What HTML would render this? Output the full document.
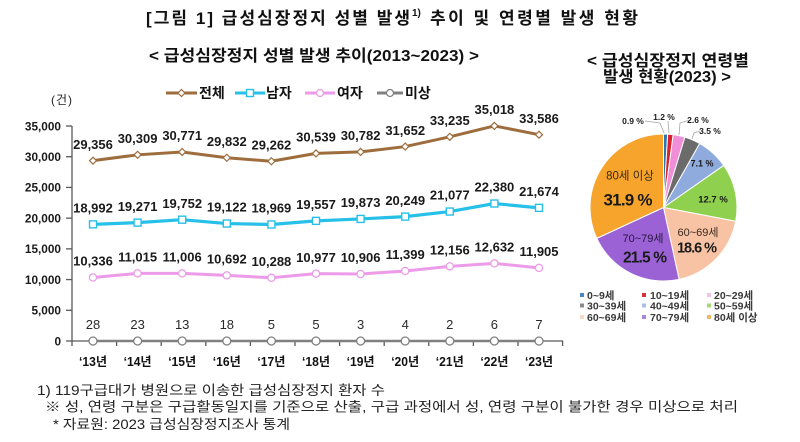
<!DOCTYPE html>
<html>
<head>
<meta charset="utf-8">
<style>
  html,body{margin:0;padding:0;background:#fff;}
  svg{display:block;}
  .kr{font-family:"Liberation Sans","Noto Sans CJK KR",sans-serif;}
  .num{font-family:"Liberation Sans","Noto Sans CJK KR",sans-serif;font-weight:bold;fill:#1a1a1a;}
</style>
</head>
<body>
<svg width="800" height="442" viewBox="0 0 800 442" xmlns="http://www.w3.org/2000/svg">
  <rect width="800" height="442" fill="#fff"/>

  <!-- Title -->
  <text class="kr" x="146" y="24" font-size="17" font-weight="bold" fill="#111" textLength="264">[그림 1] 급성심장정지 성별 발생</text>
  <text class="kr" x="412" y="16" font-size="10" font-weight="bold" fill="#111">1)</text>
  <text class="kr" x="430" y="24" font-size="17" font-weight="bold" fill="#111" textLength="208">추이 및 연령별 발생 현황</text>

  <!-- Subtitles -->
  <text class="kr" x="149" y="61" font-size="16" font-weight="bold" fill="#111" textLength="330" lengthAdjust="spacingAndGlyphs">&lt; 급성심장정지 성별 발생 추이(2013~2023) &gt;</text>
  <text class="kr" x="587" y="66" font-size="16" font-weight="bold" fill="#111" textLength="162" lengthAdjust="spacingAndGlyphs">&lt; 급성심장정지  연령별</text>
  <text class="kr" x="603" y="82" font-size="16" font-weight="bold" fill="#111" textLength="128" lengthAdjust="spacingAndGlyphs">발생 현황(2023) &gt;</text>

  <!-- Unit -->
  <text class="kr" x="51" y="104" font-size="12" fill="#222" textLength="21">(건)</text>

  <!-- Legend -->
  <g>
    <line x1="166" y1="93" x2="197" y2="93" stroke="#9e6d3d" stroke-width="3"/>
    <path d="M181.5 89.5 L185 93 L181.5 96.5 L178 93 Z" fill="#fff" stroke="#9e6d3d" stroke-width="1.2"/>
    <text class="kr" x="199" y="98" font-size="14" font-weight="bold" fill="#111">전체</text>

    <line x1="235" y1="93" x2="265" y2="93" stroke="#27c0e8" stroke-width="3"/>
    <rect x="246.5" y="89.5" width="7" height="7" fill="#fff" stroke="#27c0e8" stroke-width="1.4"/>
    <text class="kr" x="266" y="98" font-size="14" font-weight="bold" fill="#111">남자</text>

    <line x1="305" y1="93" x2="335" y2="93" stroke="#ec9be8" stroke-width="3"/>
    <circle cx="320" cy="93" r="3.5" fill="#fff" stroke="#ec9be8" stroke-width="1.3"/>
    <text class="kr" x="337" y="98" font-size="14" font-weight="bold" fill="#111">여자</text>

    <line x1="377" y1="93" x2="403" y2="93" stroke="#808080" stroke-width="3"/>
    <circle cx="390" cy="93" r="3.5" fill="#fff" stroke="#808080" stroke-width="1.3"/>
    <text class="kr" x="405" y="98" font-size="14" font-weight="bold" fill="#111">미상</text>
  </g>

  <!-- Y axis -->
  <g stroke="#595959" stroke-width="1.3">
    <line x1="72" y1="126" x2="72" y2="341"/>
    <line x1="66" y1="126" x2="72" y2="126"/>
    <line x1="66" y1="156.71" x2="72" y2="156.71"/>
    <line x1="66" y1="187.43" x2="72" y2="187.43"/>
    <line x1="66" y1="218.14" x2="72" y2="218.14"/>
    <line x1="66" y1="248.86" x2="72" y2="248.86"/>
    <line x1="66" y1="279.57" x2="72" y2="279.57"/>
    <line x1="66" y1="310.29" x2="72" y2="310.29"/>
    <line x1="66" y1="341" x2="72" y2="341"/>
  </g>
  <g class="num" font-size="11.8" text-anchor="end">
    <text x="61" y="130.3">35,000</text>
    <text x="61" y="161">30,000</text>
    <text x="61" y="191.7">25,000</text>
    <text x="61" y="222.4">20,000</text>
    <text x="61" y="253.1">15,000</text>
    <text x="61" y="283.8">10,000</text>
    <text x="61" y="314.5">5,000</text>
    <text x="61" y="345.3">0</text>
  </g>

  <!-- X axis -->
  <g stroke="#595959" stroke-width="1.3">
    <line x1="72" y1="341" x2="563" y2="341"/>
    <line x1="72" y1="341" x2="72" y2="346"/>
    <line x1="116.6" y1="341" x2="116.6" y2="346"/>
    <line x1="161.2" y1="341" x2="161.2" y2="346"/>
    <line x1="205.8" y1="341" x2="205.8" y2="346"/>
    <line x1="250.4" y1="341" x2="250.4" y2="346"/>
    <line x1="295" y1="341" x2="295" y2="346"/>
    <line x1="339.6" y1="341" x2="339.6" y2="346"/>
    <line x1="384.2" y1="341" x2="384.2" y2="346"/>
    <line x1="428.8" y1="341" x2="428.8" y2="346"/>
    <line x1="473.4" y1="341" x2="473.4" y2="346"/>
    <line x1="518" y1="341" x2="518" y2="346"/>
    <line x1="562.6" y1="341" x2="562.6" y2="346"/>
  </g>
  <g class="kr" font-size="12.5" font-weight="bold" fill="#111" text-anchor="middle">
    <text x="93" y="366" textLength="28" lengthAdjust="spacingAndGlyphs">‘13년</text>
    <text x="137.6" y="366" textLength="28" lengthAdjust="spacingAndGlyphs">‘14년</text>
    <text x="182.2" y="366" textLength="28" lengthAdjust="spacingAndGlyphs">‘15년</text>
    <text x="226.8" y="366" textLength="28" lengthAdjust="spacingAndGlyphs">‘16년</text>
    <text x="271.4" y="366" textLength="28" lengthAdjust="spacingAndGlyphs">‘17년</text>
    <text x="316" y="366" textLength="28" lengthAdjust="spacingAndGlyphs">‘18년</text>
    <text x="360.6" y="366" textLength="28" lengthAdjust="spacingAndGlyphs">‘19년</text>
    <text x="405.2" y="366" textLength="28" lengthAdjust="spacingAndGlyphs">‘20년</text>
    <text x="449.8" y="366" textLength="28" lengthAdjust="spacingAndGlyphs">‘21년</text>
    <text x="494.4" y="366" textLength="28" lengthAdjust="spacingAndGlyphs">‘22년</text>
    <text x="539" y="366" textLength="28" lengthAdjust="spacingAndGlyphs">‘23년</text>
  </g>

  <!-- 미상 series -->
  <polyline fill="none" stroke="#808080" stroke-width="2.6" points="93,341 137.6,341 182.2,341 226.8,341 271.4,341 316,341 360.6,341 405.2,341 449.8,341 494.4,341 539,341"/>
  <g fill="#fff" stroke="#808080" stroke-width="1.3">
    <circle cx="93" cy="341" r="4"/><circle cx="137.6" cy="341" r="4"/><circle cx="182.2" cy="341" r="4"/>
    <circle cx="226.8" cy="341" r="4"/><circle cx="271.4" cy="341" r="4"/><circle cx="316" cy="341" r="4"/>
    <circle cx="360.6" cy="341" r="4"/><circle cx="405.2" cy="341" r="4"/><circle cx="449.8" cy="341" r="4"/>
    <circle cx="494.4" cy="341" r="4"/><circle cx="539" cy="341" r="4"/>
  </g>
  <g font-family="Liberation Sans, sans-serif" font-size="13" text-anchor="middle" fill="#2a2a2a">
    <text x="93" y="329">28</text>
    <text x="137.6" y="329">23</text>
    <text x="182.2" y="329">13</text>
    <text x="226.8" y="329">18</text>
    <text x="271.4" y="329">5</text>
    <text x="316" y="329">5</text>
    <text x="360.6" y="329">3</text>
    <text x="405.2" y="329">4</text>
    <text x="449.8" y="329">2</text>
    <text x="494.4" y="329">6</text>
    <text x="539" y="329">7</text>
  </g>

  <!-- 여자 series -->
  <polyline fill="none" stroke="#ec9be8" stroke-width="3" points="93,277.51 137.6,273.34 182.2,273.39 226.8,275.32 271.4,277.8 316,273.57 360.6,274.01 405.2,270.98 449.8,266.33 494.4,263.4 539,267.87"/>
  <g fill="#fff" stroke="#ec9be8" stroke-width="1.3">
    <circle cx="93" cy="277.51" r="3.6"/><circle cx="137.6" cy="273.34" r="3.6"/><circle cx="182.2" cy="273.39" r="3.6"/>
    <circle cx="226.8" cy="275.32" r="3.6"/><circle cx="271.4" cy="277.8" r="3.6"/><circle cx="316" cy="273.57" r="3.6"/>
    <circle cx="360.6" cy="274.01" r="3.6"/><circle cx="405.2" cy="270.98" r="3.6"/><circle cx="449.8" cy="266.33" r="3.6"/>
    <circle cx="494.4" cy="263.4" r="3.6"/><circle cx="539" cy="267.87" r="3.6"/>
  </g>
  <g class="num" font-size="13" text-anchor="middle">
    <text x="93" y="265.7">10,336</text>
    <text x="137.6" y="261.5">11,015</text>
    <text x="182.2" y="261.6">11,006</text>
    <text x="226.8" y="263.5">10,692</text>
    <text x="271.4" y="266">10,288</text>
    <text x="316" y="261.8">10,977</text>
    <text x="360.6" y="262.2">10,906</text>
    <text x="405.2" y="259.2">11,399</text>
    <text x="449.8" y="254.5">12,156</text>
    <text x="494.4" y="251.6">12,632</text>
    <text x="539" y="256">11,905</text>
  </g>

  <!-- 남자 series -->
  <polyline fill="none" stroke="#27c0e8" stroke-width="3.2" points="93,224.34 137.6,222.62 182.2,219.67 226.8,223.54 271.4,224.48 316,220.87 360.6,218.92 405.2,216.61 449.8,211.53 494.4,203.52 539,207.86"/>
  <g fill="#fff" stroke="#27c0e8" stroke-width="1.4">
    <rect x="89.5" y="220.84" width="7" height="7"/><rect x="134.1" y="219.12" width="7" height="7"/>
    <rect x="178.7" y="216.17" width="7" height="7"/><rect x="223.3" y="220.04" width="7" height="7"/>
    <rect x="267.9" y="220.98" width="7" height="7"/><rect x="312.5" y="217.37" width="7" height="7"/>
    <rect x="357.1" y="215.42" width="7" height="7"/><rect x="401.7" y="213.11" width="7" height="7"/>
    <rect x="446.3" y="208.03" width="7" height="7"/><rect x="490.9" y="200.02" width="7" height="7"/>
    <rect x="535.5" y="204.36" width="7" height="7"/>
  </g>
  <g class="num" font-size="13" text-anchor="middle">
    <text x="93" y="212.5">18,992</text>
    <text x="137.6" y="210.8">19,271</text>
    <text x="182.2" y="207.9">19,752</text>
    <text x="226.8" y="211.7">19,122</text>
    <text x="271.4" y="212.7">18,969</text>
    <text x="316" y="209.1">19,557</text>
    <text x="360.6" y="207.1">19,873</text>
    <text x="405.2" y="204.8">20,249</text>
    <text x="449.8" y="199.7">21,077</text>
    <text x="494.4" y="191.7">22,380</text>
    <text x="539" y="196">21,674</text>
  </g>

  <!-- 전체 series -->
  <polyline fill="none" stroke="#9e6d3d" stroke-width="3" points="93,160.67 137.6,154.81 182.2,151.98 226.8,157.75 271.4,161.25 316,153.4 360.6,151.91 405.2,146.57 449.8,136.84 494.4,125.89 539,134.69"/>
  <g fill="#fff" stroke="#9e6d3d" stroke-width="1.2">
    <path d="M93 157.17 L96.5 160.67 L93 164.17 L89.5 160.67 Z"/>
    <path d="M137.6 151.31 L141.1 154.81 L137.6 158.31 L134.1 154.81 Z"/>
    <path d="M182.2 148.48 L185.7 151.98 L182.2 155.48 L178.7 151.98 Z"/>
    <path d="M226.8 154.25 L230.3 157.75 L226.8 161.25 L223.3 157.75 Z"/>
    <path d="M271.4 157.75 L274.9 161.25 L271.4 164.75 L267.9 161.25 Z"/>
    <path d="M316 149.9 L319.5 153.4 L316 156.9 L312.5 153.4 Z"/>
    <path d="M360.6 148.41 L364.1 151.91 L360.6 155.41 L357.1 151.91 Z"/>
    <path d="M405.2 143.07 L408.7 146.57 L405.2 150.07 L401.7 146.57 Z"/>
    <path d="M449.8 133.34 L453.3 136.84 L449.8 140.34 L446.3 136.84 Z"/>
    <path d="M494.4 122.39 L497.9 125.89 L494.4 129.39 L490.9 125.89 Z"/>
    <path d="M539 131.19 L542.5 134.69 L539 138.19 L535.5 134.69 Z"/>
  </g>
  <g class="num" font-size="13" text-anchor="middle">
    <text x="93" y="148.9">29,356</text>
    <text x="137.6" y="143">30,309</text>
    <text x="182.2" y="140.2">30,771</text>
    <text x="226.8" y="146">29,832</text>
    <text x="271.4" y="149.5">29,262</text>
    <text x="316" y="141.6">30,539</text>
    <text x="360.6" y="140.1">30,782</text>
    <text x="405.2" y="134.8">31,652</text>
    <text x="449.8" y="125">33,235</text>
    <text x="494.4" y="114.1">35,018</text>
    <text x="539" y="122.9">33,586</text>
  </g>

  <!-- Pie chart -->
  <g stroke="#fff" stroke-width="1">
    <path d="M663.5 207.5 L663.5 134 A73.5 73.5 0 0 1 667.65 134.12 Z" fill="#2e75b6"/>
    <path d="M663.5 207.5 L667.65 134.12 A73.5 73.5 0 0 1 673.17 134.64 Z" fill="#d9202c"/>
    <path d="M663.5 207.5 L673.17 134.64 A73.5 73.5 0 0 1 684.89 137.18 Z" fill="#f08fd8"/>
    <path d="M663.5 207.5 L684.89 137.18 A73.5 73.5 0 0 1 699.71 143.54 Z" fill="#6b6b6b"/>
    <path d="M663.5 207.5 L699.71 143.54 A73.5 73.5 0 0 1 723.77 165.43 Z" fill="#8faadc"/>
    <path d="M663.5 207.5 L723.77 165.43 A73.5 73.5 0 0 1 735.7 221.27 Z" fill="#8fd14f"/>
    <path d="M663.5 207.5 L735.7 221.27 A73.5 73.5 0 0 1 679.08 279.33 Z" fill="#f8c3a4"/>
    <path d="M663.5 207.5 L679.08 279.33 A73.5 73.5 0 0 1 596.8 238.38 Z" fill="#9b62d6"/>
    <path d="M663.5 207.5 L596.8 238.38 A73.5 73.5 0 0 1 663.5 134 Z" fill="#f7a42c"/>
  </g>
  <!-- leader lines -->
  <g stroke="#a6a6a6" stroke-width="0.8" fill="none">
    <polyline points="645,121 660,123 664,133"/>
    <line x1="668" y1="121" x2="669" y2="133"/>
    <polyline points="690,120 680,123 679,135"/>
    <polyline points="700,131 694,133 692,139"/>
  </g>
  <g class="num" font-size="8.5" text-anchor="middle" fill="#333">
    <text x="633" y="123.8">0.9 %</text>
    <text x="664" y="119.8">1.2 %</text>
    <text x="698" y="123">2.6 %</text>
    <text x="710" y="134">3.5 %</text>
  </g>
  <text class="num" x="702" y="166.3" font-size="9" text-anchor="middle" fill="#1f2a44">7.1 %</text>
  <text class="num" x="713" y="202.5" font-size="9.5" text-anchor="middle" fill="#1a2a10">12.7 %</text>
  <text class="kr" x="630" y="179.5" font-size="11.5" text-anchor="middle" fill="#3a2a10">80세 이상</text>
  <text class="num" x="628" y="205.5" font-size="17" text-anchor="middle" textLength="49" fill="#111">31.9 %</text>
  <text class="kr" x="698" y="236" font-size="11" text-anchor="middle" fill="#3a2a20">60~69세</text>
  <text class="num" x="697" y="252.5" font-size="14.5" text-anchor="middle" textLength="40" fill="#111">18.6 %</text>
  <text class="kr" x="643" y="242" font-size="11" text-anchor="middle" fill="#2a1540">70~79세</text>
  <text class="num" x="645" y="262.5" font-size="15.5" text-anchor="middle" textLength="44" fill="#111">21.5 %</text>

  <!-- Pie legend -->
  <g>
    <rect x="580" y="293" width="4" height="4" fill="#4a86c4"/>
    <rect x="642" y="293" width="4" height="4" fill="#d9303a"/>
    <rect x="707" y="293" width="4" height="4" fill="#f0c4e4"/>
    <rect x="580" y="303.5" width="4" height="4" fill="#8a8a8a"/>
    <rect x="642" y="303.5" width="4" height="4" fill="#a9bfe2"/>
    <rect x="707" y="303.5" width="4" height="4" fill="#a6d878"/>
    <rect x="580" y="315" width="4" height="4" fill="#f4d8c8"/>
    <rect x="642" y="315" width="4" height="4" fill="#ad86d8"/>
    <rect x="707" y="315" width="4" height="4" fill="#f0b860"/>
  </g>
  <g class="kr" font-size="10.5" font-weight="bold" fill="#3a3a3a">
    <text x="587" y="299">0~9세</text>
    <text x="650" y="299">10~19세</text>
    <text x="714" y="299">20~29세</text>
    <text x="587" y="309.5">30~39세</text>
    <text x="650" y="309.5">40~49세</text>
    <text x="714" y="309.5">50~59세</text>
    <text x="587" y="321">60~69세</text>
    <text x="650" y="321">70~79세</text>
    <text x="714" y="321">80세 이상</text>
  </g>

  <!-- Footnotes -->
  <g class="kr" font-size="13.5" fill="#222">
    <text x="37" y="395" textLength="348" lengthAdjust="spacingAndGlyphs">1) 119구급대가 병원으로 이송한 급성심장정지 환자 수</text>
    <text x="45" y="411.5" textLength="693" lengthAdjust="spacingAndGlyphs">※ 성, 연령 구분은 구급활동일지를 기준으로 산출, 구급 과정에서 성, 연령 구분이 불가한 경우 미상으로 처리</text>
    <text x="53" y="429" textLength="237" lengthAdjust="spacingAndGlyphs">*  자료원: 2023 급성심장정지조사 통계</text>
  </g>
</svg>
</body>
</html>
